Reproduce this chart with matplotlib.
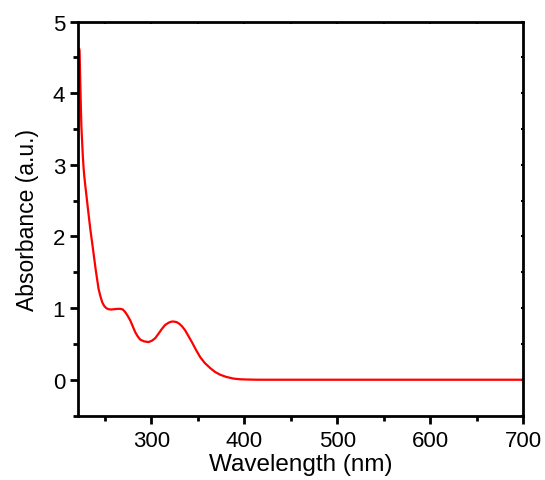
import matplotlib
matplotlib.use("Agg")
import matplotlib.pyplot as plt
from matplotlib.ticker import MultipleLocator

wavelength = [222.7, 223.0, 223.9, 224.9, 225.6, 226.5, 227.3, 228.0, 228.8, 229.6,
              232.0, 234.5, 237.4, 240.2, 243.4, 245.5, 247.4, 249.5, 251.7, 254.0,
              257.0, 260.5, 264.2, 266.7, 269.6, 272.1, 274.8, 277.4, 280.0, 282.8,
              285.5, 288.2, 292.5, 297.1, 300.8, 304.3, 308.0, 311.5, 315.0, 318.6,
              321.3, 324.0, 327.2, 330.4, 333.5, 336.5, 340.0, 343.7, 348.0, 352.6,
              357.5, 363.4, 368.5, 374.1, 380.5, 388.4, 395.0, 402.8, 415.0, 430.0,
              500.0, 600.0, 700.0]
absorbance = [4.62, 4.59, 4.06, 3.55, 3.36, 3.12, 2.96, 2.85, 2.75, 2.66,
              2.385, 2.106, 1.827, 1.548, 1.269, 1.16, 1.08, 1.03, 1.00, 0.985,
              0.98, 0.985, 0.99, 0.99, 0.98, 0.944, 0.89, 0.83, 0.75, 0.665,
              0.605, 0.56, 0.535, 0.526, 0.545, 0.58, 0.645, 0.71, 0.765, 0.795,
              0.81, 0.813, 0.805, 0.78, 0.74, 0.69, 0.61, 0.526, 0.42, 0.317,
              0.235, 0.163, 0.11, 0.07, 0.04, 0.016, 0.007, 0.003, 0.0, 0.0,
              0.0, 0.0, 0.0]

plt.rcParams['font.family'] = ['Liberation Sans', 'DejaVu Sans']

fig = plt.figure(figsize=(5.45, 4.81), dpi=100)
ax = fig.add_axes([0.1426, 0.134, 0.9602 - 0.1426, 0.953 - 0.134])

ax.plot(wavelength, absorbance, color='#ff0000', lw=1.6,
        solid_joinstyle='round', solid_capstyle='round')

ax.set_xlim(221, 700)
ax.set_ylim(-0.5, 5)
ax.xaxis.set_major_locator(MultipleLocator(100))
ax.xaxis.set_minor_locator(MultipleLocator(50))
ax.yaxis.set_major_locator(MultipleLocator(1))
ax.yaxis.set_minor_locator(MultipleLocator(0.5))

for s in ax.spines.values():
    s.set_linewidth(2.0)

ax.tick_params(which='major', direction='out', length=5.5, width=2, labelsize=16,
               top=False, right=False)
ax.tick_params(axis='x', which='major', pad=5)
ax.tick_params(which='minor', direction='out', length=3.5, width=2, top=False, right=False)

# small inward ticks on top/right
ax2 = ax.secondary_xaxis('top')
ax2.xaxis.set_major_locator(MultipleLocator(100))
ax2.xaxis.set_minor_locator(MultipleLocator(50))
ax2.tick_params(which='both', direction='in', length=1.5, width=1.5, labeltop=False)
ax3 = ax.secondary_yaxis('right')
ax3.yaxis.set_major_locator(MultipleLocator(1))
ax3.yaxis.set_minor_locator(MultipleLocator(0.5))
ax3.tick_params(which='both', direction='in', length=1.5, width=1.5, labelright=False)
ax2.spines['top'].set_visible(False)
ax3.spines['right'].set_visible(False)

ax.set_xlabel('Wavelength (nm)', fontsize=17.5, labelpad=1.5)
ax.set_ylabel('Absorbance (a.u.)', fontsize=16.5, labelpad=10)

fig.savefig('out.png', dpi=100)
